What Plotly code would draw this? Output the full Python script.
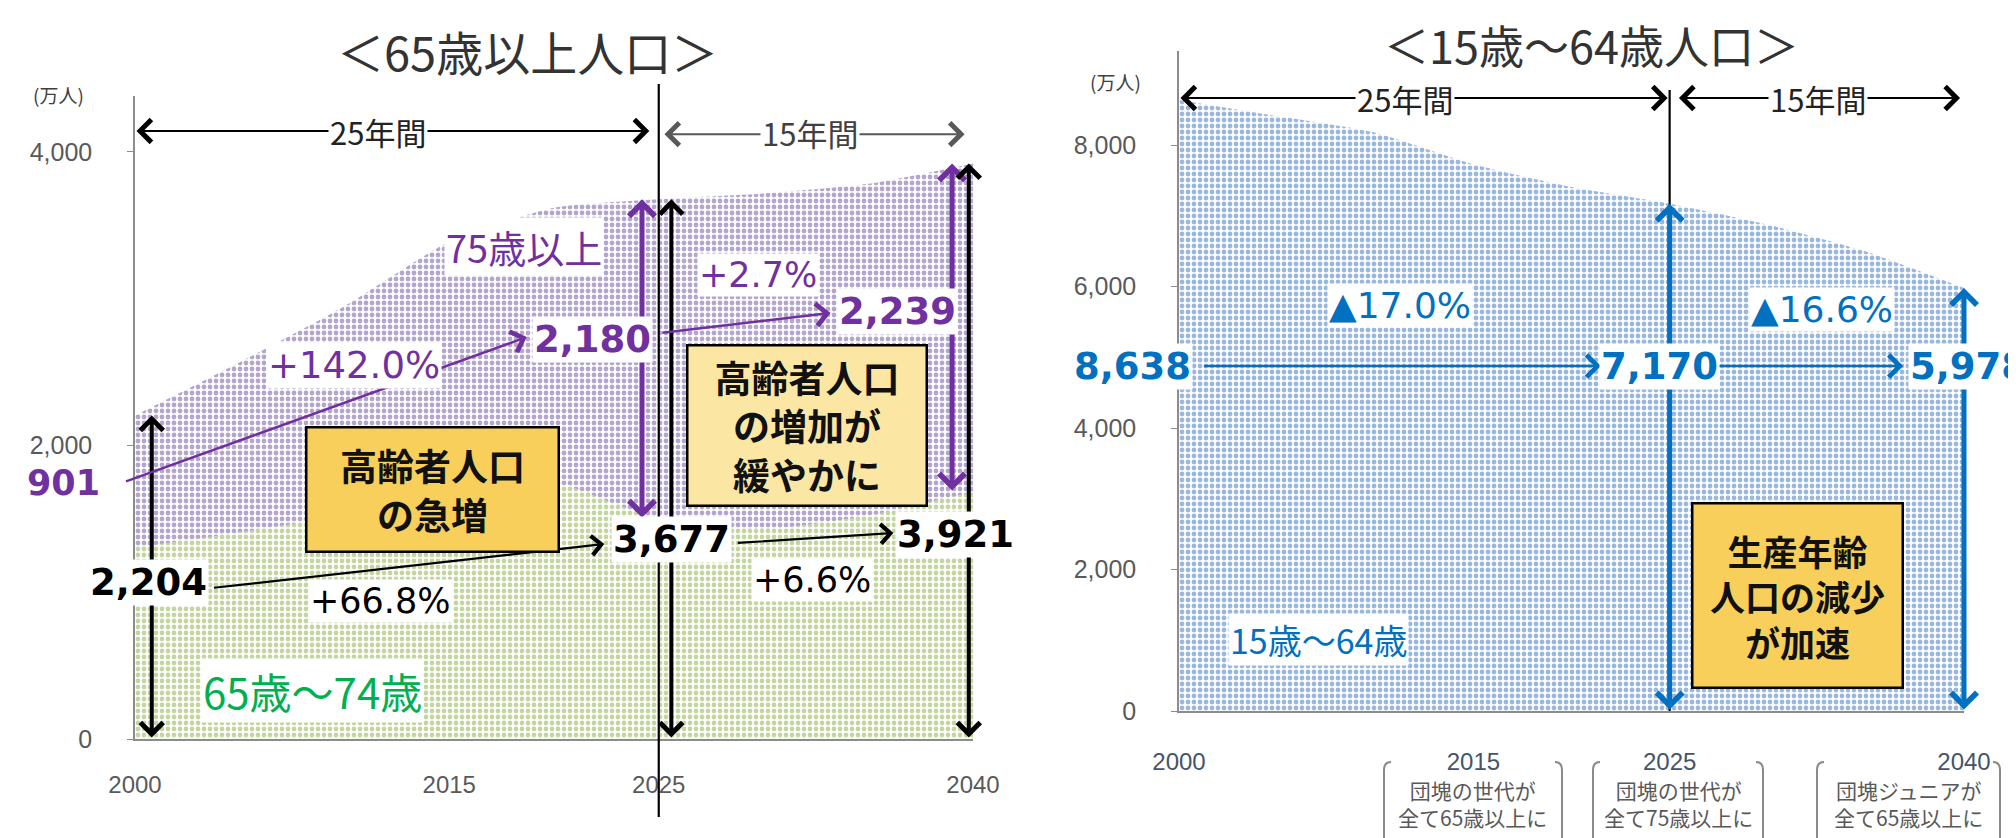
import plotly.graph_objects as go

W, H = 2016, 838
OFF = 8  # the page body adds an 8px margin; positions below are screen pixels

# ---------------- data (万人) ----------------
years = [2000, 2005, 2010, 2015, 2020, 2025, 2030, 2035, 2040]
age65_74 = [1303, 1407, 1529, 1755, 1747, 1497, 1428, 1522, 1682]
age75_plus = [901, 1160, 1419, 1632, 1872, 2180, 2288, 2260, 2239]
age15_64 = [8638, 8409, 8173, 7728, 7406, 7170, 6875, 6494, 5978]

x_ticks = [2000, 2015, 2025, 2040]
left_y_ticks = [0, 2000, 4000]
right_y_ticks = [0, 2000, 4000, 6000, 8000]
milestone_notes = ["団塊の世代が<br>全て65歳以上に", "団塊の世代が<br>全て75歳以上に", "団塊ジュニアが<br>全て65歳以上に"]

total65 = [a + b for a, b in zip(age65_74, age75_plus)]
i00, i25, i40 = years.index(2000), years.index(2025), years.index(2040)

PURPLE = "#7030a0"
BLUE = "#0070c0"
GREEN_TXT = "#00b050"
NUMF = "DejaVu Sans, Noto Sans CJK JP"
JPF = "Noto Sans CJK JP"


def fmt(v):
    return f"{v:,}"


def pct(a, b, tri=False):
    p = (b - a) / a * 100
    if tri:
        return f"▲{abs(p):.1f}%"
    return f"+{p:.1f}%"


def px(x):
    return (x - OFF) / W


def py(y):
    return 1 - (y - OFF) / H


fig = go.Figure()

# ---------------- areas ----------------
fig.add_trace(go.Scatter(
    x=years, y=age65_74, mode="lines", fill="tozeroy",
    line=dict(width=0, color="rgba(0,0,0,0)", shape="spline", smoothing=0.6),
    fillpattern=dict(shape=".", fgcolor="#8aab45", bgcolor="white", size=6, solidity=0.5),
    xaxis="x", yaxis="y", hoverinfo="skip", showlegend=False))
fig.add_trace(go.Scatter(
    x=years, y=total65, mode="lines", fill="tonexty",
    line=dict(width=0, color="rgba(0,0,0,0)", shape="spline", smoothing=0.6),
    fillpattern=dict(shape=".", fgcolor="#6a4b9a", bgcolor="white", size=6, solidity=0.5),
    xaxis="x", yaxis="y", hoverinfo="skip", showlegend=False))
fig.add_trace(go.Scatter(
    x=years, y=age15_64, mode="lines", fill="tozeroy",
    line=dict(width=0, color="rgba(0,0,0,0)", shape="spline", smoothing=0.6),
    fillpattern=dict(shape=".", fgcolor="#3570bd", bgcolor="white", size=6, solidity=0.5),
    xaxis="x2", yaxis="y2", hoverinfo="skip", showlegend=False))

ann = []


def arrow(x0, y0, x1, y1, xr, yr, color, width, head=4, size=1.0, both=False):
    d = dict(x=x1, y=y1, ax=x0, ay=y0, xref=xr, yref=yr, axref=xr, ayref=yr,
             text="", showarrow=True, arrowhead=head, arrowsize=size,
             arrowwidth=width, arrowcolor=color, standoff=0, startstandoff=0,
             arrowside="end+start" if both else "end")
    if both:
        d.update(startarrowhead=head, startarrowsize=size)
    ann.append(d)


def label(text, x, y, size, color, family=NUMF, bold=False, bg=None, xanchor="center"):
    ann.append(dict(text=f"<b>{text}</b>" if bold else text, x=px(x), y=py(y),
                    xref="paper", yref="paper", showarrow=False, xanchor=xanchor,
                    yanchor="middle", font=dict(size=size, color=color, family=family),
                    bgcolor=bg, borderpad=1))


def box(text, cx, cy, w, h, size, bg):
    ann.append(dict(text=f"<b>{text}</b>", x=px(cx), y=py(cy), xref="paper", yref="paper",
                    xanchor="center", yanchor="middle",
                    showarrow=False, width=w, height=h, align="center", valign="middle",
                    bgcolor=bg, bordercolor="black", borderwidth=2.5, borderpad=0,
                    font=dict(size=size, color="#111111", family=JPF)))


# ---------------- left chart ----------------
label("＜65歳以上人口＞", 527, 50, 47, "#333333", family=JPF)
label("(万人)", 58, 94, 19, "#404040", family=JPF)

# period arrows
arrow(2000, 4142, 2024.55, 4142, "x", "y", "black", 2, head=4, size=2.2, both=True)
label("25年間", 378, 131, 31, "#222222", family=JPF, bg="white")
arrow(2025.2, 4120, 2039.6, 4120, "x", "y", "#595959", 2, head=4, size=2.2, both=True)
label("15年間", 810, 133, 31, "#404040", family=JPF, bg="white")

# vertical value arrows
arrow(1999.2, age65_74[i00], 1999.2, total65[i00], "x", "y", PURPLE, 5, size=1.0, both=True)
arrow(2000.8, 0, 2000.8, total65[i00], "x", "y", "black", 4, size=1.1, both=True)
arrow(2024.2, age65_74[i25], 2024.2, total65[i25], "x", "y", PURPLE, 5, size=1.0, both=True)
arrow(2025.6, 0, 2025.6, total65[i25], "x", "y", "black", 4, size=1.1, both=True)
arrow(2039.0, age65_74[i40], 2039.0, total65[i40], "x", "y", PURPLE, 5, size=1.0, both=True)
arrow(2039.8, 0, 2039.8, total65[i40], "x", "y", "black", 4, size=1.1, both=True)

# change arrows
arrow(1999.5, 1751, 2018.7, 2738, "x", "y", PURPLE, 2.5, size=1.7)
arrow(2025.1, 2766, 2033.2, 2902, "x", "y", PURPLE, 2.5, size=1.7)
arrow(2003.7, 1029, 2022.4, 1328, "x", "y", "black", 2.2, size=1.7)
arrow(2028.7, 1335, 2036.2, 1403, "x", "y", "black", 2.2, size=1.7)

label(fmt(age75_plus[i00]), 63, 483, 35, PURPLE, bold=True)
label(fmt(total65[i00]), 148, 582, 37, "black", bold=True, bg="white")
label(pct(total65[i00], total65[i25]), 380, 601, 35, "black", bg="white")
label(fmt(total65[i25]), 671, 539, 37, "black", bold=True, bg="white")
label(pct(age75_plus[i00], age75_plus[i25]), 354, 365, 37, PURPLE, bg="white")
label(fmt(age75_plus[i25]), 592, 339, 37, PURPLE, bold=True, bg="white")
label("75歳以上", 524, 247, 38, PURPLE, family=JPF, bg="white")
label(pct(age75_plus[i25], age75_plus[i40]), 758, 275, 35, PURPLE, bg="white")
label(fmt(age75_plus[i40]), 897, 311, 37, PURPLE, bold=True, bg="white")
label(pct(total65[i25], total65[i40]), 812, 580, 35, "black", bg="white")
label(fmt(total65[i40]), 895, 534, 37, "black", bold=True, bg="white", xanchor="left")
label("65歳～74歳", 312, 690, 42, GREEN_TXT, family=JPF, bg="white")

box("高齢者人口<br>の急増", 432, 490, 250, 122, 37, "#f7cf5a")
box("高齢者人口<br>の増加が<br>緩やかに", 807, 425, 237, 158, 37, "#fbe7a3")

# ---------------- right chart ----------------
label("＜15歳～64歳人口＞", 1591, 44, 45, "#333333", family=JPF)
label("(万人)", 1115, 82, 19, "#404040", family=JPF)

arrow(2000, 8664, 2024.9, 8664, "x2", "y2", "black", 2, head=4, size=2.2, both=True)
label("25年間", 1405, 98, 31, "#222222", family=JPF, bg="white")
arrow(2025.4, 8664, 2039.8, 8664, "x2", "y2", "black", 2, head=4, size=2.2, both=True)
label("15年間", 1818, 98, 31, "#222222", family=JPF, bg="white")

arrow(1999.75, 0, 1999.75, age15_64[i00], "x2", "y2", BLUE, 5, size=1.0, both=True)
arrow(2025, 0, 2025, age15_64[i25], "x2", "y2", BLUE, 5, size=1.0, both=True)
arrow(2040, 0, 2040, age15_64[i40], "x2", "y2", BLUE, 5, size=1.0, both=True)

arrow(2001.2, 4876, 2021.5, 4876, "x2", "y2", BLUE, 2.5, size=1.7)
arrow(2027.4, 4876, 2036.9, 4876, "x2", "y2", BLUE, 2.5, size=1.7)

label(fmt(age15_64[i00]), 1132, 366, 37, BLUE, bold=True, bg="white")
label(fmt(age15_64[i25]), 1659, 366, 37, BLUE, bold=True, bg="white")
label(fmt(age15_64[i40]), 1908, 366, 37, BLUE, bold=True, bg="white", xanchor="left")
label(pct(age15_64[i00], age15_64[i25], tri=True), 1400, 305, 36, BLUE, bg="white")
label(pct(age15_64[i25], age15_64[i40], tri=True), 1822, 309, 36, BLUE, bg="white")
label("15歳～64歳", 1318, 639, 34, BLUE, family=JPF, bg="white")

box("生産年齢<br>人口の減少<br>が加速", 1797, 595, 208, 182, 35, "#f7cf5a")

# milestone notes under the right axis
note_x = [1472, 1678, 1908]
for t, cx in zip(milestone_notes, note_x):
    ann.append(dict(text=t, x=px(cx), y=py(803), xref="paper", yref="paper", showarrow=False,
                    xanchor="center", yanchor="middle", align="center",
                    font=dict(size=21, color="#595959", family=JPF)))

shapes = []
# vertical 2025 lines
shapes.append(dict(type="line", xref="x", yref="paper", x0=2025, x1=2025,
                   y0=py(817), y1=py(84), line=dict(color="black", width=2.2)))
shapes.append(dict(type="line", xref="x2", yref="paper", x0=2025, x1=2025,
                   y0=py(711), y1=py(90), line=dict(color="black", width=2.2)))


# brackets
def bracket_path(xe, opening):
    d = 7 if opening else -7
    y0, y1 = 762, 846
    pts = [(xe + d, y0), (xe, y0 + 8), (xe, y1 - 8), (xe + d, y1)]
    return (f"M {px(pts[0][0])},{py(pts[0][1])} Q {px(xe)},{py(y0)} {px(pts[1][0])},{py(pts[1][1])} "
            f"L {px(pts[2][0])},{py(pts[2][1])} Q {px(xe)},{py(y1)} {px(pts[3][0])},{py(pts[3][1])}")


for l, r in [(1384, 1562), (1593, 1763), (1817, 2000)]:
    for xe, op in [(l, True), (r, False)]:
        shapes.append(dict(type="path", xref="paper", yref="paper", path=bracket_path(xe, op),
                           line=dict(color="#8a8a8a", width=2)))
shapes.append(dict(type="line", xref="paper", yref="paper", x0=px(2012), x1=px(2012),
                   y0=py(768), y1=py(846), line=dict(color="#8a8a8a", width=2)))

axis_common = dict(showgrid=False, zeroline=False, showline=True, linecolor="#8c8c8c",
                   linewidth=1.5, automargin=False)

fig.update_layout(
    width=W, height=H, margin=dict(l=0, r=0, t=0, b=0, autoexpand=False),
    paper_bgcolor="white", plot_bgcolor="white", showlegend=False,
    xaxis=dict(domain=[px(135), px(973)], range=[2000, 2040], anchor="y",
               tickvals=x_ticks, ticktext=[str(v) for v in x_ticks], ticks="",
               tickfont=dict(size=24, color="#595959", family="Liberation Sans"),
               ticklabelstandoff=23, **axis_common),
    yaxis=dict(domain=[py(739), py(96)], range=[0, 4380], anchor="x",
               tickvals=left_y_ticks, ticktext=[fmt(v) for v in left_y_ticks],
               ticks="outside", ticklen=6, tickcolor="#8c8c8c",
               tickfont=dict(size=25, color="#595959", family="Liberation Sans"),
               ticklabelstandoff=30, **axis_common),
    xaxis2=dict(domain=[px(1179), px(1964)], range=[2000, 2040], anchor="y2",
                tickvals=x_ticks, ticktext=[str(v) for v in x_ticks], ticks="",
                tickfont=dict(size=24, color="#44546a", family="Liberation Sans"),
                ticklabelstandoff=28, **axis_common),
    yaxis2=dict(domain=[py(711), py(51)], range=[0, 9329], anchor="x2",
                tickvals=right_y_ticks, ticktext=[fmt(v) for v in right_y_ticks],
                ticks="outside", ticklen=6, tickcolor="#8c8c8c",
                tickfont=dict(size=25, color="#595959", family="Liberation Sans"),
                ticklabelstandoff=30, **axis_common),
    annotations=ann, shapes=shapes,
)

fig.write_html("out.html", config={"displayModeBar": False})
